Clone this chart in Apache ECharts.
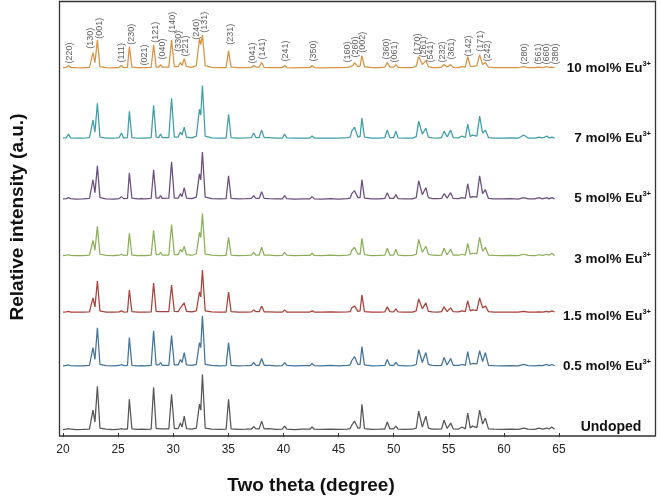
<!DOCTYPE html>
<html>
<head>
<meta charset="utf-8">
<script src="https://cdn.jsdelivr.net/npm/echarts@6/dist/echarts.min.js"></script>
<style>html,body{margin:0;padding:0;background:#fff;}#c{width:661px;height:500px;}</style>
</head>
<body>
<div id="c"></div>
<script>
// Shared 2-theta sampling positions (degrees)
const twoTheta = [
  20.0, 20.3, 20.5, 20.7, 21.2, 21.8, 22.4, 22.72, 22.9, 23.12,
  23.35, 23.9, 24.6, 25.1, 25.3, 25.5, 25.85, 26.02, 26.25, 26.8,
  27.15, 27.3, 27.45, 28.0, 28.22, 28.45, 28.7, 28.85, 29.0, 29.6,
  29.85, 30.1, 30.45, 30.65, 30.8, 31.0, 31.2, 31.7, 32.1, 32.38,
  32.5, 32.65, 32.9, 33.5, 34.2, 34.8, 35.02, 35.25, 35.9, 36.6,
  37.1, 37.3, 37.5, 37.8, 38.02, 38.25, 38.7, 39.3, 39.9, 40.1,
  40.3, 41.0, 41.8, 42.4, 42.6, 42.8, 43.5, 44.3, 45.0, 45.8,
  46.05, 46.2, 46.32, 46.45, 46.75, 46.95, 47.12, 47.35, 48.0, 48.7,
  49.2, 49.42, 49.65, 50.0, 50.2, 50.4, 51.0, 51.7, 52.05, 52.27,
  52.6, 52.92, 53.15, 53.3, 53.5, 54.0, 54.35, 54.57, 54.85, 55.0,
  55.17, 55.4, 55.9, 56.2, 56.5, 56.72, 56.95, 57.15, 57.55, 57.8,
  58.07, 58.32, 58.6, 59.1, 59.8, 60.6, 61.3, 61.8, 62.2, 62.8,
  63.2, 63.5, 63.9, 64.1, 64.35, 64.6
];

// Intensities (a.u.), one array per sample
const eu10 = [
  0.8, 1.2, 3, 1, 0.8, 0.6, 1.2, 16, 6, 29,
  2, 1, 0.6, 1.2, 3, 1, 1.2, 22, 1.5, 0.8,
  1, 2, 0.8, 1.2, 24, 1.5, 1.5, 4, 1.5, 1.5,
  29, 2, 2, 6, 3, 10, 2, 1.2, 3, 30,
  24, 34, 3, 1.2, 0.8, 1, 18, 1.5, 0.8, 1,
  1.2, 3, 1.5, 1.5, 6, 1.2, 1, 0.8, 1, 3,
  1, 0.6, 1, 0.8, 3, 1, 0.6, 1, 0.8, 1.2,
  2, 4, 3, 6, 2, 2.5, 13, 2, 0.8, 1,
  1.5, 6, 1.5, 1.5, 4, 1.2, 0.8, 1, 2.5, 12,
  4, 8, 2, 2, 1, 1, 1.5, 4, 1.5, 1.5,
  4, 1.2, 1, 2, 1.5, 12, 2.5, 2, 3, 14,
  4, 6, 1.5, 1, 0.8, 1, 0.8, 2, 0.8, 1,
  1.5, 0.8, 2, 1, 1.5, 0.8
];
const eu7 = [
  1, 1.5, 5, 1.2, 0.8, 0.8, 1.5, 19, 7, 36,
  2, 1, 0.8, 1.5, 6, 1, 1.5, 28, 1.5, 0.8,
  1, 2, 1, 1.5, 34, 2, 1.5, 5, 1.5, 1.5,
  41, 2, 2, 7, 4, 12, 2, 1.2, 3, 30,
  24, 54, 3, 1.2, 1, 1, 25, 1.5, 1, 1.2,
  1.5, 6, 1.5, 1.5, 9, 1.5, 1.5, 1, 1, 5,
  1.2, 0.8, 1, 1, 3, 1, 0.8, 1, 0.8, 1.5,
  2, 8, 6, 12, 2, 2.5, 21, 2, 1, 1,
  1.5, 9, 1.5, 1.5, 8, 1.2, 1, 1, 2.5, 18,
  5, 11, 2, 3, 1.2, 1, 1.5, 8, 2, 2,
  9, 1.5, 1.2, 3, 1.5, 15, 2.5, 4, 3, 23,
  6, 9, 1.5, 1, 1, 1.2, 0.8, 4, 1, 1,
  2, 1, 3, 1, 2, 1
];
const eu5 = [
  0.8, 1, 2, 1, 0.6, 0.8, 1.2, 20, 7, 34,
  2, 0.8, 0.6, 1, 3, 1, 1.2, 27, 1.5, 0.8,
  1, 2, 0.8, 1.2, 30, 1.5, 1.5, 4, 1.2, 1.5,
  38, 1.5, 1.5, 6, 3, 12, 1.5, 1, 2.5, 26,
  20, 48, 2.5, 1, 0.8, 1, 24, 1.2, 0.8, 1,
  1.2, 4, 1.2, 1.2, 8, 1.2, 1, 0.8, 0.8, 4,
  1, 0.6, 0.8, 0.8, 3, 0.8, 0.6, 1, 0.6, 1,
  1.5, 6, 4, 9, 2, 2, 20, 1.5, 0.8, 0.8,
  1.2, 7, 1.2, 1.2, 5, 1, 0.8, 0.8, 2, 19,
  5, 12, 2, 3, 1, 1, 1.2, 6, 1.5, 1.5,
  7, 1.2, 1, 2, 1.2, 16, 2, 3, 2.5, 24,
  6, 10, 1.2, 0.8, 0.8, 1, 0.6, 2, 0.8, 0.8,
  2, 0.8, 2, 0.8, 2, 0.8
];
const eu3 = [
  0.6, 1, 1.5, 0.8, 0.6, 0.6, 1, 16, 6, 30,
  2, 0.8, 0.6, 1, 2, 0.8, 1, 23, 1.2, 0.6,
  0.8, 2, 0.6, 1, 26, 1.5, 1.5, 4, 1.2, 1.2,
  32, 1.5, 1.5, 7, 4, 10, 1.5, 1, 2.5, 24,
  19, 43, 2, 1, 0.6, 0.8, 19, 1.2, 0.6, 0.8,
  1, 4, 1.2, 1.2, 9, 1.2, 1, 0.6, 0.8, 4,
  1, 0.6, 0.8, 0.8, 3, 0.8, 0.6, 1, 0.6, 1,
  1.5, 6, 4, 9, 2, 2, 18, 1.5, 0.6, 0.8,
  1, 8, 1.2, 1.2, 7, 1, 0.6, 0.8, 2, 17,
  4, 10, 2, 3, 1, 0.8, 1.2, 8, 1.5, 1.5,
  7, 1.2, 1, 2, 1.2, 13, 2, 3, 2.5, 19,
  5, 9, 1.2, 0.8, 0.6, 0.8, 0.6, 2, 0.8, 0.6,
  1.5, 0.8, 2, 1, 3, 0.8
];
const eu15 = [
  0.6, 1, 1.5, 0.8, 0.6, 0.6, 1, 15, 6, 32,
  2, 0.8, 0.6, 1, 2, 0.8, 1, 23, 1.2, 0.6,
  0.8, 2, 0.6, 1, 30, 1.5, 1.2, 3, 1.2, 1.2,
  28, 1.5, 1.2, 5, 3, 10, 1.5, 1, 2, 21,
  16, 43, 2, 1, 0.6, 0.8, 21, 1.2, 0.6, 0.8,
  1, 3, 1.2, 1.2, 7, 1, 1, 0.6, 0.8, 3,
  0.8, 0.6, 0.8, 0.8, 2, 0.8, 0.6, 1, 0.6, 1,
  1.2, 5, 3, 7, 1.5, 2, 18, 1.2, 0.6, 0.8,
  1, 6, 1.2, 1, 4, 1, 0.6, 0.8, 2, 14,
  4, 10, 1.5, 2, 1, 0.8, 1.2, 6, 1.2, 1.2,
  5, 1.2, 1, 2, 1.2, 12, 2, 3, 2.5, 15,
  5, 7, 1.2, 0.8, 0.6, 0.8, 0.6, 1.5, 0.8, 0.6,
  1, 0.8, 1.5, 0.8, 2, 0.8
];
const eu05 = [
  0.6, 1, 1.5, 0.8, 0.6, 0.6, 1, 19, 7, 39,
  2, 0.8, 0.6, 1, 2, 0.8, 1, 29, 1.2, 0.6,
  0.8, 2, 0.6, 1, 36, 1.5, 1.5, 4, 1.2, 1.2,
  31, 1.5, 1.5, 7, 4, 14, 1.5, 1, 2, 24,
  19, 51, 2, 1, 0.6, 0.8, 24, 1.2, 0.6, 0.8,
  1, 4, 1.2, 1.2, 8, 1.2, 1, 0.6, 0.8, 4,
  1, 0.6, 0.8, 0.8, 3, 0.8, 0.6, 1, 0.6, 1,
  1.5, 6, 4, 10, 2, 2, 20, 1.5, 0.6, 0.8,
  1, 7, 1.2, 1.2, 4, 1, 0.6, 0.8, 2, 17,
  4, 14, 2, 3, 1, 0.8, 1.2, 9, 1.5, 1.5,
  8, 1.2, 1, 2, 1.2, 15, 2, 3, 2.5, 16,
  5, 14, 1.2, 0.8, 0.6, 0.8, 0.6, 2, 0.8, 0.6,
  1, 0.8, 2, 0.8, 2, 0.8
];
const undoped = [
  0.5, 1, 1.5, 0.8, 0.5, 0.6, 1, 20, 8, 44,
  2, 0.8, 0.5, 0.8, 1.5, 0.8, 1, 31, 1.2, 0.6,
  0.8, 2, 0.6, 1, 43, 1.5, 1.5, 3, 1.2, 1.2,
  36, 1.5, 1.5, 7, 3, 14, 1.5, 1, 2, 26,
  20, 56, 2, 1, 0.6, 0.8, 31, 1.2, 0.6, 0.8,
  1, 3.5, 1.2, 1.2, 9, 1.2, 1.5, 0.6, 0.8, 4,
  1, 0.5, 0.8, 0.8, 3, 0.8, 0.6, 1, 0.6, 1,
  1.5, 5, 4, 9, 2, 2, 26, 1.5, 0.6, 0.8,
  1, 8, 1.2, 1.2, 4, 1, 0.6, 0.8, 2, 19,
  3, 14, 2, 3, 1, 0.8, 1.2, 10, 1.5, 1.5,
  7, 1.2, 1, 3, 1.2, 17, 2, 4, 2.5, 20,
  6, 12, 1.2, 0.8, 0.6, 0.8, 0.6, 2, 0.8, 0.6,
  2, 1, 2, 1, 3, 0.8
];

// Sample names (top to bottom) and vertical stacking offsets (a.u.)
const sampleLabels = ['10 mol% Eu', '7 mol% Eu', '5 mol% Eu', '3 mol% Eu', '1.5 mol% Eu', '0.5 mol% Eu', 'Undoped'];
const sampleData = [eu10, eu7, eu5, eu3, eu15, eu05, undoped];
const stackOffsets = [367, 296, 235, 178, 121, 67, 3];

// Miller indices annotating the 10 mol% pattern
const hklNames = ['(220)','(130)','(001)','(111)','(230)','(021)','(121)','(040)','(140)','(330)','(221)','(240)','(131)','(231)','(041)','(141)','(241)','(350)','(160)','(260)','(002)','(360)','(061)','(170)','(261)','(541)','(232)','(361)','(142)','(171)','(242)','(280)','(561)','(660)','(380)'];
const hklTheta = [20.62,22.5,23.3,25.3,26.2,27.4,28.35,29.0,29.9,30.45,31.15,32.1,32.85,35.2,37.2,38.1,40.15,42.7,45.8,46.5,47.2,49.35,50.1,52.15,52.7,53.3,54.45,55.25,56.75,57.85,58.5,61.85,63.1,63.9,64.65];
const hklBase = [372,387,397,373,391,370,393,376,403,384,379,396,403,391,372,376,374,374,373,378,383,376,373,381,378,373,373,376,379,384,374,371,371,371,371];

// x-axis tick labels
const xTicks = [20, 25, 30, 35, 40, 45, 50, 55, 60, 65];

const colors = ['#D8923F', '#3F9DA6', '#6A4E7C', '#8DAE58', '#A5423B', '#42739A', '#555555'];
const labelY = [68, 138, 198, 259, 316, 366, 427];
const FONT = '"Liberation Sans", Arial, sans-serif';

const chart = echarts.init(document.getElementById('c'), null, {renderer: 'canvas'});

const series = sampleData.map((vals, i) => ({
  type: 'line',
  name: sampleLabels[i],
  data: twoTheta.map((t, k) => [t, stackOffsets[i] + vals[k]]),
  showSymbol: false,
  symbol: 'none',
  lineStyle: {color: colors[i], width: 1.25},
  itemStyle: {color: colors[i]},
  z: 3,
  silent: true
}));

series.push({
  type: 'scatter',
  data: hklTheta.map((t, k) => ({value: [t, hklBase[k]], name: hklNames[k]})),
  symbolSize: 0,
  silent: true,
  label: {
    show: true,
    formatter: p => p.name,
    position: [0, 0],
    rotate: 90,
    align: 'left',
    verticalAlign: 'middle',
    fontSize: 9,
    fontFamily: FONT,
    color: '#333'
  },
  z: 4
});

const graphics = [{
  type: 'rect',
  shape: {x: 59.5, y: 1.5, width: 596, height: 434.5},
  style: {fill: 'none', stroke: '#333', lineWidth: 1.3},
  z: 10, silent: true
}];
sampleLabels.forEach((s, i) => {
  const isUndoped = i === 6;
  graphics.push({
    type: 'text',
    x: isUndoped ? 611 : 651, y: labelY[i],
    style: {
      text: isUndoped ? '{u|Undoped}' : '{b|' + s + '}{s|3+}',
      align: isUndoped ? 'center' : 'right', verticalAlign: 'middle',
      rich: {
        u: {fontSize: 14, fontWeight: 'bold', fontFamily: FONT, fill: '#111', color: '#111'},
        b: {fontSize: 13.5, fontWeight: 'bold', fontFamily: FONT, fill: '#111', color: '#111'},
        s: {fontSize: 7.5, fontWeight: 'bold', fontFamily: FONT, fill: '#111', color: '#111', padding: [0, 0, 8, 0]}
      }
    },
    z: 10, silent: true
  });
});

chart.setOption({
  animation: false,
  backgroundColor: '#fff',
  grid: {left: 63, right: 102, top: 1, bottom: 64, containLabel: false},
  xAxis: {
    type: 'value', min: 20, max: 65, interval: 5,
    name: 'Two theta (degree)', nameLocation: 'middle', nameGap: 43,
    nameTextStyle: {fontSize: 19, fontWeight: 'bold', fontFamily: FONT, color: '#111'},
    axisLine: {show: false},
    axisTick: {show: true, length: 4, inside: false, lineStyle: {color: '#333', width: 1}},
    axisLabel: {fontSize: 12, fontFamily: FONT, color: '#222', margin: 11,
      formatter: v => (xTicks.indexOf(v) >= 0 ? String(v) : '')},
    splitLine: {show: false}
  },
  yAxis: {
    type: 'value', min: 0, max: 435,
    name: 'Relative intensity (a.u.)', nameLocation: 'middle', nameGap: 36,
    nameTextStyle: {fontSize: 19, fontWeight: 'bold', fontFamily: FONT, color: '#111'},
    axisLine: {show: false}, axisTick: {show: false}, axisLabel: {show: false},
    splitLine: {show: false}
  },
  series: series,
  graphic: graphics
});
</script>
</body>
</html>
